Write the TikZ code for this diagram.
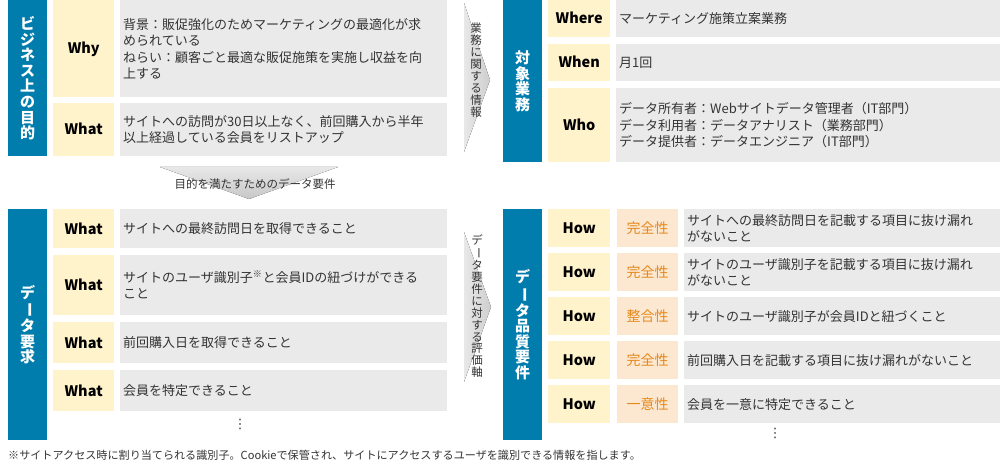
\documentclass[tikz,border=0pt]{standalone}
\usepackage{fontspec}
\setmainfont{Noto Sans CJK JP}
\newfontfamily\symfont{DejaVu Sans}
\newcommand\tatebar{\rotatebox[origin=c]{-90}{ー}}
\usetikzlibrary{positioning}
\definecolor{barblue}{RGB}{0,125,172}
\definecolor{keyyellow}{RGB}{255,243,204}
\definecolor{attrpeach}{RGB}{252,231,208}
\definecolor{attrorange}{RGB}{229,138,28}
\definecolor{bodygray}{RGB}{234,234,234}
\definecolor{inkgray}{RGB}{51,51,51}

\begin{document}
\begin{tikzpicture}[x=1pt,y=-1pt,
 bar/.style={fill=barblue,text=white,anchor=north west,inner sep=0,align=center,minimum width=39,
  font=\bfseries\fontsize{15}{15.6}\selectfont},
 key/.style={fill=keyyellow,anchor=north west,inner sep=0,minimum width=62,text height=10.6,text depth=0,
  font=\bfseries\fontsize{14.5}{16}\selectfont},
 attr/.style={fill=attrpeach,text=attrorange,anchor=north west,inner sep=0,minimum width=61,
  font=\fontsize{14}{16}\selectfont},
 body/.style={fill=bodygray,text=inkgray,anchor=north west,inner xsep=3,inner ysep=0,align=left,
  font=\fontsize{13}{16.5}\selectfont},
 lbody/.style={body,minimum width=327,text width=321},
 tbody/.style={body,minimum width=384,text width=378},
 rbody/.style={body,minimum width=316,text width=310},
 side/.style={text=inkgray,align=center,inner sep=0,font=\fontsize{11.5}{11.9}\selectfont},
 sidearrow/.style={left color=black!9,right color=black!19},
 dots/.style={text=inkgray,inner sep=0,font=\symfont\fontsize{13}{13}\selectfont}]
\useasboundingbox(0,0)rectangle(1000,470);
% business purpose
\node[bar,minimum height=156](purpose)at(8,0){ビ\\ジ\\ネ\\ス\\上\\の\\目\\的};
\node[key,minimum width=61,minimum height=97](why)at(53,0){Why};
\node[lbody,minimum height=97](whytext)at(120,0)
 {背景：販促強化のためマーケティングの最適化が求\\められている\\ねらい：顧客ごと最適な販促施策を実施し収益を向\\上する};
\node[key,minimum width=61,minimum height=53](what)at(53,103){What};
\node[lbody,minimum height=53](whattext)at(120,103)
 {サイトへの訪問が30日以上なく、前回購入から半年\\以上経過している会員をリストアップ};
\fill[top color=black!9,bottom color=black!22](160,167)--(338,167)--(249,199)--cycle;
\node[text=inkgray,font=\fontsize{11.5}{12}\selectfont](downlabel)at(255,184){目的を満たすためのデータ要件};
% data requirements
\node[bar,minimum height=231](request)at(8,209){デ\\\tatebar\\タ\\要\\求};
\node[key,minimum width=61,minimum height=39](req1)at(53,209){What};
\node[lbody,minimum height=39](req1text)at(120,209){サイトへの最終訪問日を取得できること};
\node[key,minimum width=61,minimum height=60](req2)at(53,255){What};
\node[lbody,minimum height=60](req2text)at(120,255){サイトのユーザ識別子\textsuperscript{※}と会員IDの紐づけができる\\こと};
\node[key,minimum width=61,minimum height=41](req3)at(53,322){What};
\node[lbody,minimum height=41](req3text)at(120,322){前回購入日を取得できること};
\node[key,minimum width=61,minimum height=41](req4)at(53,370){What};
\node[lbody,minimum height=41](req4text)at(120,370){会員を特定できること};
\node[dots](reqdots)at(240,424){⋮};
% target work
\fill[sidearrow](464,3)--(490,80)--(464,152)--cycle;
\node[side](infolabel)at(476,70){業\\務\\に\\関\\す\\る\\情\\報};
\node[bar,minimum height=162](target)at(503,0){対\\象\\業\\務};
\node[key,minimum height=37](where)at(548,0){Where};
\node[tbody,minimum height=37](wheretext)at(616,0){マーケティング施策立案業務};
\node[key,minimum height=37](when)at(548,44){When};
\node[tbody,minimum height=37](whentext)at(616,44){月1回};
\node[key,minimum height=74](who)at(548,88){Who};
\node[tbody,minimum height=74](whotext)at(616,88)
 {データ所有者：Webサイトデータ管理者（IT部門）\\データ利用者：データアナリスト（業務部門）\\データ提供者：データエンジニア（IT部門）};
% data quality requirements
\fill[sidearrow](464,232)--(491,307)--(464,382)--cycle;
\node[side](evallabel)at(477,306){デ\\\tatebar\\タ\\要\\件\\に\\対\\す\\る\\評\\価\\軸};
\node[bar,minimum height=231](quality)at(503,209){デ\\\tatebar\\タ\\品\\質\\要\\件};
\node[key,minimum height=38](how1)at(548,209){How};
\node[attr,minimum height=38](attr1)at(617,209){完全性};
\node[rbody,minimum height=38](how1text)at(684,209){サイトへの最終訪問日を記載する項目に抜け漏れ\\がないこと};
\node[key,minimum height=38](how2)at(548,253){How};
\node[attr,minimum height=38](attr2)at(617,253){完全性};
\node[rbody,minimum height=38](how2text)at(684,253){サイトのユーザ識別子を記載する項目に抜け漏れ\\がないこと};
\node[key,minimum height=38](how3)at(548,297){How};
\node[attr,minimum height=38](attr3)at(617,297){整合性};
\node[rbody,minimum height=38](how3text)at(684,297){サイトのユーザ識別子が会員IDと紐づくこと};
\node[key,minimum height=38](how4)at(548,341){How};
\node[attr,minimum height=38](attr4)at(617,341){完全性};
\node[rbody,minimum height=38](how4text)at(684,341){前回購入日を記載する項目に抜け漏れがないこと};
\node[key,minimum height=38](how5)at(548,385){How};
\node[attr,minimum height=38](attr5)at(617,385){一意性};
\node[rbody,minimum height=38](how5text)at(684,385){会員を一意に特定できること};
\node[dots](qualdots)at(775,433){⋮};
% footnote
\node[anchor=west,inner sep=0,text=inkgray,font=\fontsize{11.1}{12}\selectfont](note)at(8,455)
 {※サイトアクセス時に割り当てられる識別子。Cookieで保管され、サイトにアクセスするユーザを識別できる情報を指します。};
\end{tikzpicture}
\end{document}
